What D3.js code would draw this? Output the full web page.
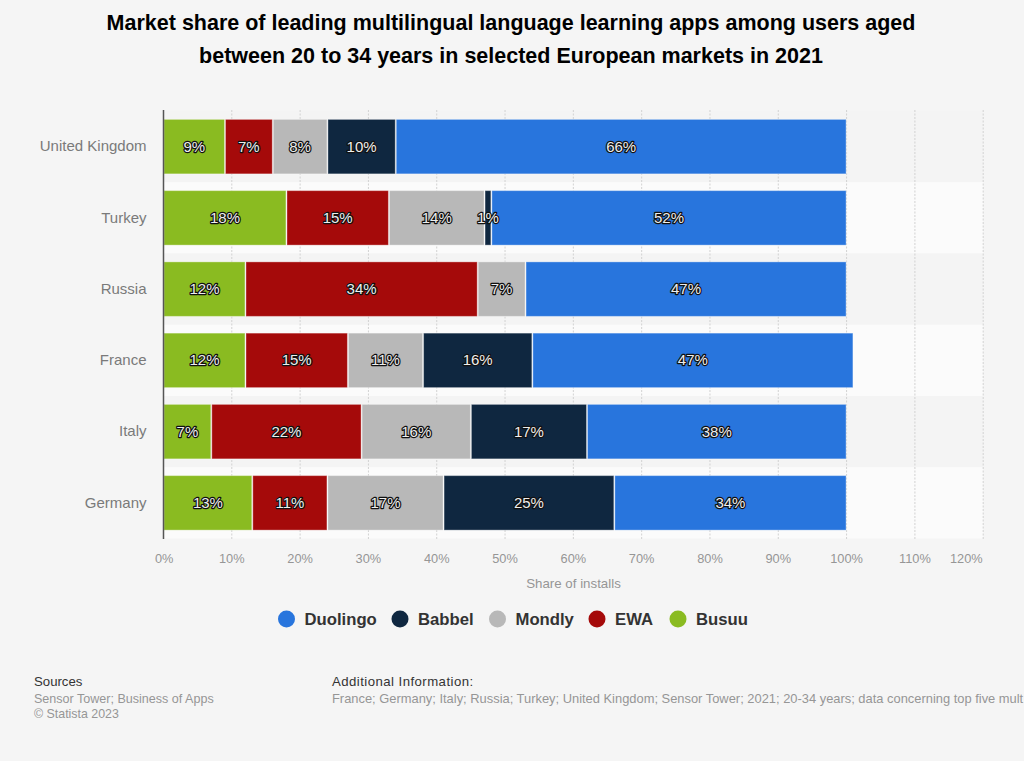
<!DOCTYPE html>
<html>
<head>
<meta charset="utf-8">
<script src="https://cdn.jsdelivr.net/npm/d3@7"></script>
<style>
html, body { margin: 0; padding: 0; background: #f5f5f5; overflow: hidden; }
svg { display: block; font-family: "Liberation Sans", Arial, sans-serif; }
</style>
</head>
<body>
<script>
// data
var countries = ['United Kingdom', 'Turkey', 'Russia', 'France', 'Italy', 'Germany'];
var apps = ['Busuu', 'EWA', 'Mondly', 'Babbel', 'Duolingo'];
var legendOrder = ['Duolingo', 'Babbel', 'Mondly', 'EWA', 'Busuu'];
var busuu = [9, 18, 12, 12, 7, 13];
var ewa = [7, 15, 34, 15, 22, 11];
var mondly = [8, 14, 7, 11, 16, 17];
var babbel = [10, 1, 0, 16, 17, 25];
var duolingo = [66, 52, 47, 47, 38, 34];
var colors = ['#8abb21', '#a50a0a', '#b8b8b8', '#0f2740', '#2875dd'];
var xTicks = [0, 10, 20, 30, 40, 50, 60, 70, 80, 90, 100, 110, 120];

var series = [busuu, ewa, mondly, babbel, duolingo];
var rows = countries.map(function(c, i) {
  var r = { country: c };
  apps.forEach(function(a, j) { r[a] = series[j][i]; });
  return r;
});

var svg = d3.select('body').append('svg').attr('width', 1024).attr('height', 761);

var x = d3.scaleLinear().domain([0, 120]).range([163.5, 983.2]);
var y = d3.scaleBand().domain(countries).range([111, 538.5]).paddingInner(0).paddingOuter(0);
var barH = 54.5;
var color = d3.scaleOrdinal().domain(apps).range(colors);

// title
svg.append('g').selectAll('text')
  .data(['Market share of leading multilingual language learning apps among users aged',
         'between 20 to 34 years in selected European markets in 2021'])
  .enter().append('text')
  .attr('x', 511).attr('y', function(d, i) { return 30 + i * 32.5; })
  .attr('text-anchor', 'middle')
  .style('font-size', '21.5px').style('font-weight', 'bold').style('fill', '#000')
  .text(function(d) { return d; });

// row bands
svg.append('g').selectAll('rect')
  .data(countries)
  .enter().append('rect')
  .attr('x', x(0)).attr('width', x(120) - x(0))
  .attr('y', function(d) { return y(d); })
  .attr('height', y.bandwidth())
  .style('fill', function(d, i) { return i % 2 ? '#fbfbfb' : '#f4f4f4'; });

// grid
svg.append('g').selectAll('line')
  .data(xTicks.slice(1))
  .enter().append('line')
  .attr('x1', function(d) { return x(d); }).attr('x2', function(d) { return x(d); })
  .attr('y1', 110).attr('y2', 539)
  .style('stroke', '#d2d2d2').style('stroke-dasharray', '2,1.5');

// bars
var stacked = d3.stack().keys(apps)(rows);
var layers = svg.append('g').selectAll('g')
  .data(stacked)
  .enter().append('g')
  .style('fill', function(d) { return color(d.key); });

layers.selectAll('rect')
  .data(function(d) { return d.filter(function(p) { return p[1] > p[0]; }); })
  .enter().append('rect')
  .attr('x', function(d) { return x(d[0]) + 0.5; })
  .attr('width', function(d) { return x(d[1]) - x(d[0]) - 1; })
  .attr('y', function(d) { return y(d.data.country) + (y.bandwidth() - barH) / 2; })
  .attr('height', barH)
  .style('stroke', '#fff').style('stroke-opacity', 0.35).style('stroke-width', 1);

// bar labels go on top of every bar, the 1% label is wider than its segment
var labelLayers = svg.append('g').selectAll('g')
  .data(stacked)
  .enter().append('g');

labelLayers.selectAll('text')
  .data(function(d) {
    return d.filter(function(p) { return p[1] > p[0]; });
  })
  .enter().append('text')
  .attr('x', function(d) { return x((d[0] + d[1]) / 2); })
  .attr('y', function(d) { return y(d.data.country) + y.bandwidth() / 2 + 5; })
  .attr('text-anchor', 'middle')
  .style('font-size', '15px')
  .style('fill', '#eeeeee')
  .style('stroke', '#111')
  .style('stroke-width', '2.4px')
  .style('paint-order', 'stroke')
  .style('stroke-linejoin', 'round')
  .text(function(d) { return (d[1] - d[0]) + '%'; });

// axes
var yAxis = svg.append('g').attr('transform', 'translate(' + x(0) + ',0)')
  .call(d3.axisLeft(y).tickSize(0).tickPadding(17));
yAxis.select('.domain').style('stroke', '#555').style('stroke-width', 1.5)
  .attr('d', 'M0,110V539');
yAxis.selectAll('text').style('font-size', '15px').style('fill', '#7a7a7a')
  .style('font-family', '"Liberation Sans", Arial, sans-serif');

var xAxis = svg.append('g').attr('transform', 'translate(0,539)')
  .call(d3.axisBottom(x).tickValues(xTicks).tickSize(0).tickPadding(14.5)
    .tickFormat(function(d) { return d + '%'; }));
xAxis.select('.domain').remove();
xAxis.selectAll('text').style('font-size', '12.8px').style('fill', '#969696')
  .style('font-family', '"Liberation Sans", Arial, sans-serif')
  .attr('text-anchor', function(d) { return d === 120 ? 'end' : d === 0 ? 'start' : 'middle'; })
  .attr('dx', function(d) { return d === 0 ? -9 : d === 120 ? -1 : -0.5; });

svg.append('text')
  .attr('x', 573.5).attr('y', 588).attr('text-anchor', 'middle')
  .style('font-size', '13.3px').style('fill', '#969696')
  .text('Share of installs');

// legend
var legendX = [286.5, 400, 497.5, 597, 678];
var legend = svg.append('g').selectAll('g')
  .data(legendOrder)
  .enter().append('g')
  .attr('transform', function(d, i) { return 'translate(' + legendX[i] + ',619)'; });
legend.append('circle').attr('r', 8.5)
  .style('fill', function(d) { return color(d); });
legend.append('text')
  .attr('x', 18).attr('y', 5.5)
  .style('font-size', '16.7px').style('font-weight', 'bold').style('fill', '#333')
  .text(function(d) { return d; });

// footer
svg.append('text').attr('x', 34).attr('y', 686)
  .style('font-size', '13.2px').style('fill', '#333').text('Sources');
svg.append('text').attr('x', 34).attr('y', 703)
  .style('font-size', '12.55px').style('fill', '#969696').text('Sensor Tower; Business of Apps');
svg.append('text').attr('x', 34).attr('y', 718)
  .style('font-size', '12.4px').style('fill', '#969696').text('© Statista 2023');
svg.append('text').attr('x', 332).attr('y', 686)
  .style('font-size', '13.2px').style('letter-spacing', '0.45px').style('fill', '#333').text('Additional Information:');
svg.append('text').attr('x', 332).attr('y', 703)
  .style('font-size', '12.9px').style('fill', '#969696')
  .text('France; Germany; Italy; Russia; Turkey; United Kingdom; Sensor Tower; 2021; 20-34 years; data concerning top five mult');
</script>
</body>
</html>
